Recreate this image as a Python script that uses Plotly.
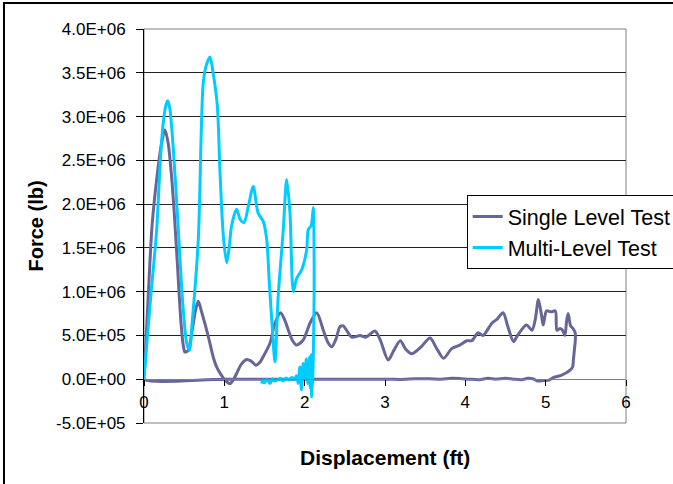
import plotly.graph_objects as go

# Single Level Test (displacement ft, force lb) - loading path then return along zero
single_x = [0.0, 0.005, 0.05, 0.10, 0.16, 0.22, 0.26, 0.30, 0.34, 0.38, 0.42, 0.46, 0.49, 0.51, 0.55, 0.60, 0.64, 0.676,
            0.72, 0.80, 0.86, 0.904, 0.96, 1.008, 1.07, 1.11, 1.153, 1.21, 1.278, 1.33, 1.394, 1.44, 1.485, 1.568, 1.63,
            1.70, 1.75, 1.797, 1.85, 1.90, 1.983, 2.066, 2.15, 2.232, 2.29, 2.336, 2.39, 2.44, 2.48, 2.585, 2.69, 2.76,
            2.875, 2.94, 3.04, 3.11, 3.19, 3.26, 3.33, 3.45, 3.56, 3.65, 3.73, 3.83, 3.93, 4.02, 4.08, 4.16, 4.22, 4.33,
            4.40, 4.47, 4.53, 4.60, 4.65, 4.76, 4.83, 4.87, 4.91, 4.95, 4.97, 5.01, 5.07, 5.12, 5.14, 5.18, 5.21, 5.24,
            5.26, 5.28, 5.31, 5.33, 5.365, 5.37, 5.357, 5.345, 5.335, 5.30, 5.24, 5.18, 5.10, 5.04, 4.97, 4.90, 4.84,
            4.78, 4.70, 4.60, 4.50, 4.38, 4.28, 4.18, 4.05, 3.93, 3.83, 3.70, 3.55, 3.38, 3.20, 3.05, 2.94, 2.70, 2.0,
            1.0, 0.0]
single_y = [0.0, 8e4, 9e5, 1.75e6, 2.3e6, 2.7e6, 2.85e6, 2.7e6, 2.35e6, 1.85e6, 1.25e6, 6.5e5, 3.8e5, 3.1e5, 3.3e5,
            5.6e5, 7.8e5, 8.9e5, 7.6e5, 4.9e5, 2.6e5, 1.4e5, 5e4, -1e4, -5e4, -1e4, 6.5e4, 1.7e5, 2.26e5, 2.1e5,
            1.6e5, 1.9e5, 2.6e5, 4.1e5, 6.4e5, 7.6e5, 6.8e5, 5.6e5, 4.4e5, 3.9e5, 4.5e5, 6.4e5, 7.6e5, 5.6e5, 4.2e5,
            3.7e5, 4.6e5, 6.0e5, 6.1e5, 4.8e5, 5.0e5, 4.8e5, 5.5e5, 4.5e5, 2.2e5, 3.3e5, 4.4e5, 3.4e5, 2.9e5, 3.7e5,
            4.7e5, 3.4e5, 2.4e5, 3.5e5, 3.9e5, 4.4e5, 4.4e5, 5.3e5, 5.0e5, 6.4e5, 6.9e5, 7.6e5, 6.0e5, 4.3e5, 5.0e5,
            6.2e5, 5.6e5, 6.8e5, 9.1e5, 7.2e5, 6.2e5, 7.8e5, 7.7e5, 7.8e5, 5.6e5, 5.8e5, 5.6e5, 5.0e5, 6.6e5, 7.5e5,
            6.1e5, 5.9e5, 5.4e5, 4.6e5, 3.3e5, 2.2e5, 1.4e5, 1.0e5, 6.5e4, 4e4, 2e4, -1e4, -1.5e4, -2e4, 5e3, 1e4,
            -5e3, 0.0, 1e4, 0.0, 1e4, -5e3, 0.0, 8e3, 1e4, 0.0, 5e3, 5e3, -3e3, 0.0, 0.0, 0.0, 0.0, 0.0, 0.0]

# Multi-Level Test
multi_x = [0.0, 0.01, 0.08, 0.158, 0.20, 0.235, 0.27, 0.295, 0.32, 0.365, 0.427, 0.48, 0.53, 0.565, 0.60, 0.676,
           0.738, 0.78, 0.822, 0.86, 0.913, 0.946, 0.988, 1.029, 1.06, 1.09, 1.153, 1.20, 1.245, 1.30, 1.36, 1.42,
           1.485, 1.527, 1.56, 1.60, 1.63, 1.67, 1.734, 1.776, 1.817, 1.859, 1.90, 1.963, 2.025, 2.045, 2.08, 2.108,
           2.116, 2.118, 2.11, 2.10, 2.09, 2.087, 2.08, 2.07, 2.06, 2.04, 2.02, 2.00, 1.98, 1.96, 1.94, 1.92, 1.90,
           1.87, 1.84, 1.80, 1.77, 1.73, 1.70, 1.66, 1.62, 1.60, 1.57, 1.53, 1.50, 1.48, 1.465]
multi_y = [0.0, 1.2e5, 9e5, 1.71e6, 2.45e6, 2.89e6, 3.12e6, 3.18e6, 3.1e6, 2.63e6, 1.71e6, 9e5, 4.2e5, 3.3e5,
           6.5e5, 1.6e6, 3.39e6, 3.6e6, 3.68e6, 3.5e6, 3.12e6, 2.36e6, 1.63e6, 1.33e6, 1.5e6, 1.75e6, 1.94e6,
           1.82e6, 1.79e6, 1.98e6, 2.2e6, 1.9e6, 1.8e6, 1.6e6, 1.1e6, 5.5e5, 2.0e5, 9.4e5, 1.71e6, 2.28e6, 1.9e6,
           1.0e6, 1.15e6, 1.25e6, 1.48e6, 1.71e6, 1.75e6, 1.96e6, 1.6e6, 1.0e6, 4e5, 0.0, -1.2e5, -2.0e5, 2.8e5,
           -1e5, 2.5e5, -5e4, 2.3e5, 0.0, 1.8e5, -1.2e5, 1.4e5, -5e4, 4e4, 0.0, 2e4, -1e4, 1.5e4, -2e4, 1e4, -1e4,
           -2e4, 5e3, -5e4, 0.0, -4e4, -1e4, -5e4]

y_tickvals = [-5e5, 0, 5e5, 1e6, 1.5e6, 2e6, 2.5e6, 3e6, 3.5e6, 4e6]
y_ticktext = ["-5.0E+05", "0.0E+00", "5.0E+05", "1.0E+06", "1.5E+06", "2.0E+06",
              "2.5E+06", "3.0E+06", "3.5E+06", "4.0E+06"]
x_tickvals = [0, 1, 2, 3, 4, 5, 6]

FONT = "Liberation Sans, Arial, sans-serif"

fig = go.Figure()
fig.add_trace(go.Scatter(x=single_x, y=single_y, mode="lines", name="Single Level Test",
                         line=dict(color="#666699", width=3, shape="spline", smoothing=0.8)))
fig.add_trace(go.Scatter(x=multi_x, y=multi_y, mode="lines", name="Multi-Level Test",
                         line=dict(color="#00CCFF", width=3, shape="spline", smoothing=0.8)))

fig.update_layout(
    width=673, height=484,
    margin=dict(l=144, r=47, t=29, b=61, autoexpand=False),
    paper_bgcolor="white", plot_bgcolor="white",
    font=dict(family=FONT, color="black", size=17),
    showlegend=True,
    legend=dict(x=0.6695, y=0.5787, xanchor="left", yanchor="top",
                bgcolor="white", bordercolor="black", borderwidth=1,
                font=dict(size=21.5, family=FONT), tracegroupgap=0),
    xaxis=dict(range=[0, 6], tickvals=x_tickvals, anchor="free", position=0.5 / 4.5,
               showline=True, linecolor="#808080", linewidth=1,
               ticks="outside", ticklen=6, tickcolor="black", showgrid=False, zeroline=False,
               tickfont=dict(size=17, family=FONT), ticklabelstandoff=1),
    yaxis=dict(range=[-5e5, 4e6], tickvals=y_tickvals, ticktext=y_ticktext,
               showline=True, linecolor="black", linewidth=1,
               ticks="outside", ticklen=7, tickcolor="black",
               showgrid=True, gridcolor="#222222", gridwidth=1, zeroline=False,
               tickfont=dict(size=17, family=FONT), ticklabelstandoff=7),
    shapes=[
        dict(type="rect", xref="paper", yref="paper", x0=0, x1=1, y0=0, y1=1,
             line=dict(color="#808080", width=1), layer="between"),
        dict(type="rect", xref="paper", yref="paper", x0=-0.2905, x1=1.2, y0=-0.3, y1=1.066,
             line=dict(color="black", width=2), layer="above"),
    ],
    annotations=[
        dict(text="<b>Displacement (ft)</b>", xref="paper", yref="paper", x=0.5, y=-0.0888,
             xanchor="center", yanchor="middle", showarrow=False, font=dict(size=21, family=FONT)),
        dict(text="<b>Force (lb)</b>", xref="paper", yref="paper", x=-0.225, y=0.5,
             xanchor="center", yanchor="middle", textangle=-90, showarrow=False,
             font=dict(size=20, family=FONT)),
    ],
)

fig.write_html("out.html", config={"displayModeBar": False},
               post_script="document.body.style.margin='0px';")
